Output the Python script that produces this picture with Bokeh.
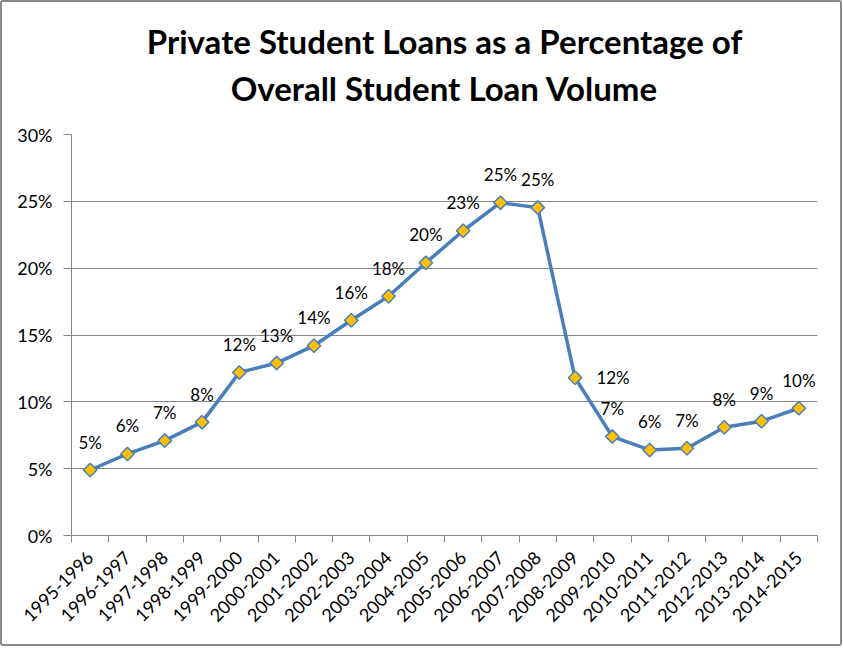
import math
import numpy as np
from bokeh.plotting import figure
from bokeh.models import (ColumnDataSource, Range1d, FixedTicker, NumeralTickFormatter,
                          Title)
from bokeh.embed import file_html
from bokeh.resources import INLINE
from bokeh.core.properties import value

# ---- data ----
title_lines = ["Private Student Loans as a Percentage of",
               "Overall Student Loan Volume"]
years = ["1995-1996", "1996-1997", "1997-1998", "1998-1999", "1999-2000",
         "2000-2001", "2001-2002", "2002-2003", "2003-2004", "2004-2005",
         "2005-2006", "2006-2007", "2007-2008", "2008-2009", "2009-2010",
         "2010-2011", "2011-2012", "2012-2013", "2013-2014", "2014-2015"]
share = [0.049, 0.061, 0.071, 0.0848, 0.122, 0.129, 0.142, 0.161, 0.179, 0.204,
         0.228, 0.249, 0.2453, 0.118, 0.074, 0.064, 0.0653, 0.081, 0.0855, 0.0952]
y_ticks = [0.0, 0.05, 0.10, 0.15, 0.20, 0.25, 0.30]

FONT = "Lato"
GRID = "#868686"
BLUE = "#4A7EBB"
GOLD = "#FFC000"

n = len(years)
xs = [i + 0.5 for i in range(n)]
labels = ["%d%%" % math.floor(v * 100 + 0.5) for v in share]
dx = [0] * n
dy = [-28] * n
# the 2008-2009 label sits to the right of its point
dx[13] = 38
dy[13] = 0

src = ColumnDataSource(dict(x=xs, y=share, label=labels, dx=dx, dy=dy))

p = figure(width=842, height=646, output_backend="svg", toolbar_location=None,
           x_range=Range1d(0, n), y_range=Range1d(0, y_ticks[-1]),
           min_border_left=69, min_border_right=27, min_border_top=132,
           min_border_bottom=113)
p.styles = {"border": "2px solid #898989", "border-radius": "3px"}
p.outline_line_color = None
p.background_fill_color = "white"
p.border_fill_color = "white"
p.title.visible = False

# two title lines (bottom line added first so it sits closer to the plot)
for line, gap in zip(reversed(title_lines), [54, -44]):
    p.add_layout(Title(text=line, align="center", text_font=FONT,
                       text_font_size="33px", text_font_style="bold",
                       text_color="black", standoff=gap), "above")

# grid
p.xgrid.visible = False
p.ygrid.ticker = FixedTicker(ticks=y_ticks)
p.ygrid.grid_line_color = GRID
p.ygrid.grid_line_width = 1

# y axis
p.yaxis.ticker = FixedTicker(ticks=y_ticks)
p.yaxis.formatter = NumeralTickFormatter(format="0%")
p.yaxis.axis_line_color = GRID
p.yaxis.major_tick_line_color = GRID
p.yaxis.major_tick_in = 0
p.yaxis.major_tick_out = 8
p.yaxis.minor_tick_line_color = None
p.yaxis.major_label_text_font = FONT
p.yaxis.major_label_text_font_size = "18px"
p.yaxis.major_label_text_color = "black"
p.yaxis.major_label_standoff = 11

# x axis: labels at centers, tick marks at category boundaries
p.xaxis.ticker = FixedTicker(ticks=xs, minor_ticks=list(range(n + 1)))
p.xaxis.major_label_overrides = {x: lab for x, lab in zip(xs, years)}
p.xaxis.major_label_orientation = np.pi / 4
p.xaxis.axis_line_color = GRID
p.xaxis.major_tick_line_color = None
p.xaxis.major_tick_out = 7
p.xaxis.minor_tick_line_color = GRID
p.xaxis.minor_tick_in = 0
p.xaxis.minor_tick_out = 7
p.xaxis.major_label_text_font = FONT
p.xaxis.major_label_text_font_size = "18px"
p.xaxis.major_label_text_color = "black"
p.xaxis.major_label_standoff = 12

# series
p.line("x", "y", source=src, line_color=BLUE, line_width=3.5)
p.scatter("x", "y", source=src, marker="square", angle=np.pi / 4, size=9.5,
          fill_color=GOLD, line_color=BLUE, line_width=1.5)
p.text("x", "y", text="label", source=src, x_offset="dx", y_offset="dy",
       text_align="center", text_baseline="middle",
       text_font=value(FONT), text_font_size="17px", text_color="black")

open("out.html", "w").write(file_html(p, INLINE))
